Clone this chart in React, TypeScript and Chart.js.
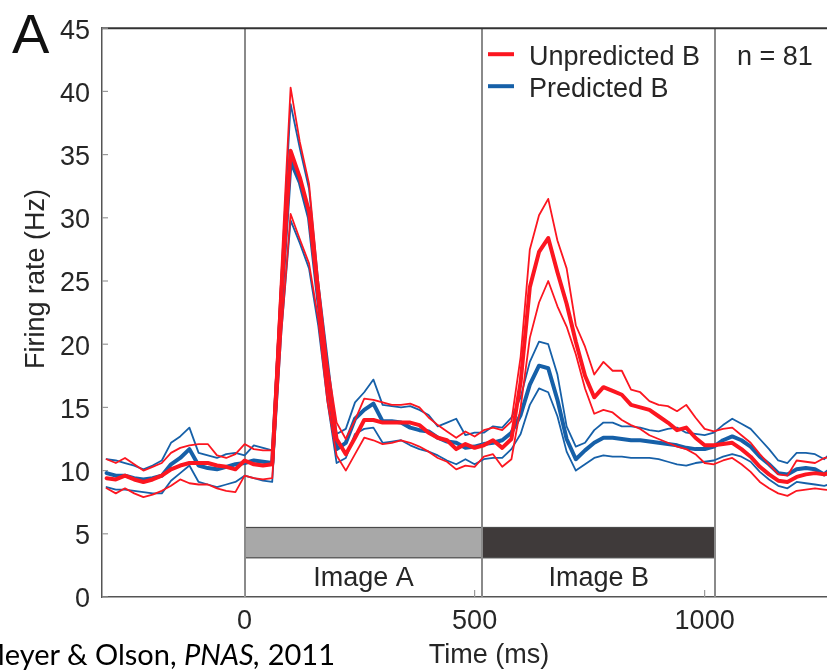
import React, { useEffect, useRef } from "react";
import { Chart, registerables } from "chart.js";

Chart.register(...registerables);

// ---- data ----
const timeMs = [
  -300, -280, -260, -240, -220, -200, -180, -160, -140, -120, -100, -80, -60, -40, -20,
  0, 20, 40, 60, 80, 100, 120, 140, 160, 180, 200, 220, 240, 260, 280, 300, 320, 340,
  360, 380, 400, 420, 440, 460, 480, 500, 520, 540, 560, 580, 600, 620, 640, 660, 680,
  700, 720, 740, 760, 780, 800, 820, 840, 860, 880, 900, 920, 940, 960, 980, 1000, 1020,
  1040, 1060, 1080, 1100, 1120, 1140, 1160, 1180, 1200, 1220, 1240, 1260, 1280,
];

const unpredictedMean = [
  9.4, 9.3, 9.6, 9.3, 9.1, 9.3, 9.6, 10.1, 10.4, 10.6, 10.6, 10.6, 10.4, 10.3, 10.1, 10.8, 10.5, 10.4, 10.5,
  24, 35.3, 33.2, 30.5, 24, 17, 12.5, 11.3, 12.6,
  14.0, 14.0, 13.8, 13.8, 13.8, 13.8, 13.6, 13.0, 12.6, 12.4, 11.7, 12.1, 11.8,
  12.0, 12.4, 11.8, 12.5, 17, 24.5, 27.3, 28.4, 25.7, 23.2, 20.2, 17.5, 15.8, 16.6, 16.3, 16.0, 15.2, 15.0, 14.8, 14.3, 13.8, 13.2, 13.4, 12.6, 12.0, 12.0,
  12.1, 12.2, 11.7, 11.1, 10.3, 9.7, 9.2, 9.1, 9.5, 9.7, 9.8, 9.7, 9.9,
];
const unpredictedUpper = [
  10.9, 10.6, 11.0, 10.5, 10.0, 10.3, 10.6, 11.4, 11.8, 12.0, 12.1, 12.1, 11.2, 11.0, 11.3, 12.1, 11.7, 11.6, 11.6,
  26, 40.3, 36.0, 32.7, 25, 18.5, 13.8, 12.5, 14.0,
  15.7, 15.6, 15.4, 15.2, 15.2, 15.3, 15.0, 14.2, 13.6, 13.1, 12.6, 13.1, 12.7,
  13.2, 13.4, 13.2, 13.9, 19, 27.5, 30.2, 31.5, 28.2, 26.0, 21.5, 19.8, 17.6, 18.6, 17.9, 17.9, 16.4, 16.2, 15.5, 15.2, 15.1, 14.7, 15.2, 14.2, 13.3, 13.1,
  13.3, 13.4, 12.8, 12.2, 11.3, 10.5, 9.7, 9.6, 10.8, 10.7, 10.6, 11.0, 11.1,
];
const unpredictedLower = [
  8.6, 8.2, 8.6, 8.2, 7.9, 8.1, 8.4, 8.8, 9.3, 9.0, 8.9, 8.9, 8.6, 8.4, 8.3, 9.6, 9.4, 9.3, 9.4,
  21, 30.3, 28.3, 26.4, 22, 15.5, 11.2, 10.0, 11.3,
  12.6, 12.4, 12.1, 12.2, 12.4, 12.2, 11.9, 11.5, 11.0, 10.7, 10.1, 10.4, 10.3,
  11.1, 11.3, 10.3, 10.9, 15, 20.5, 23.3, 25.0, 23.0, 21.4, 19.2, 16.5, 14.5, 14.8, 14.6, 14.0, 13.6, 13.3, 12.8, 12.5, 12.2, 11.9, 11.7, 11.3, 10.6, 10.5,
  10.8, 11.0, 10.5, 9.9, 9.1, 8.6, 8.2, 8.0, 8.4, 8.5, 8.6, 8.5, 8.4,
];
const predictedMean = [
  9.8, 9.6, 9.6, 9.4, 9.3, 9.4, 9.6, 10.5, 11.0, 11.7, 10.4, 10.2, 10.1, 10.3, 10.5, 10.6, 10.8, 10.7, 10.6,
  23.5, 34.5, 32.8, 30, 23.5, 17.3, 11.7, 12.2, 14.1,
  14.8, 15.3, 13.9, 13.9, 13.8, 13.4, 13.2, 13.1, 12.6, 12.3, 12.2, 11.8, 11.9,
  12.1, 12.2, 12.4, 13.0, 14.4, 16.8, 18.3, 18.1, 15.6, 12.5, 10.9, 11.6, 12.2, 12.6, 12.6, 12.5, 12.4, 12.4, 12.3, 12.2, 12.1, 12.0, 11.8, 11.7, 11.7, 11.9,
  12.4, 12.7, 12.4, 11.9, 11.1, 10.5, 9.8, 9.7, 10.1, 10.2, 10.1, 9.7, 10.3,
];
const predictedUpper = [
  10.9, 10.8, 10.6, 10.4, 10.1, 10.4, 10.8, 12.2, 12.7, 13.4, 11.4, 11.2, 11.0, 11.3, 11.4, 11.2, 12.0, 11.8, 11.6,
  25.5, 39.0, 35.5, 32.3, 25, 19, 12.9, 13.3, 15.4,
  16.2, 17.2, 15.2, 15.1, 15.0, 15.1, 14.8, 14.4, 13.5, 13.8, 14.1, 12.8, 13.0,
  13.0, 13.5, 13.4, 14.2, 15.8, 18.6, 20.2, 20.0, 17.6, 13.5, 11.9, 12.2, 13.2, 13.8, 13.8, 13.5, 13.5, 13.4, 13.2, 13.1, 13.3, 13.4, 13.0, 12.9, 12.8, 13.0,
  13.6, 14.1, 13.7, 13.3, 12.5, 11.7, 10.8, 10.6, 11.4, 11.4, 11.3, 10.9, 11.6,
];
const predictedLower = [
  8.7, 8.5, 8.5, 8.4, 8.3, 8.2, 8.2, 9.2, 9.8, 10.4, 9.1, 8.9, 8.7, 8.9, 9.1, 9.6, 9.4, 9.2, 9.1,
  21, 29.8, 28, 26, 21.5, 15.5, 10.6, 11.0, 12.9,
  13.3, 13.4, 12.2, 12.3, 12.4, 12.0, 11.7, 11.5, 11.2, 10.8, 10.5, 10.9, 10.5,
  10.9, 11.0, 11.0, 11.7, 12.9, 15.2, 16.5, 16.2, 14.3, 11.5, 10.0, 10.5, 11.0, 11.2, 11.1, 11.1, 11.0, 11.0, 11.0, 10.9, 10.7, 10.5, 10.4, 10.6, 10.7, 10.8,
  11.1, 11.3, 11.1, 10.7, 9.9, 9.3, 8.8, 8.6, 9.1, 9.0, 8.9, 8.8, 9.0,
];

const xTickValues = [0, 500, 1000];
const eventTimes = [0, 517, 1023];
const stimulusLabels = ["Image A", "Image B"];
const stimulusStarts = [0, 517];
const stimulusEnds = [517, 1023];
const stimulusRange = [3.1, 5.5];
const legendLabels = ["Unpredicted B", "Predicted B"];
const countLabel = "n = 81";

// ---- styles ----
const RED = "rgb(252, 22, 32)";
const BLUE = "rgb(22, 96, 168)";
const FONT = '"Liberation Sans", Arial, Helvetica, sans-serif';
const TEXT = "#262626";
const stimulusFills = ["#a8a8a8", "#3f3a3a"];

const toPoints = (vals: number[]) => timeMs.map((t, i) => ({ x: t, y: vals[i] }));

const overlayPlugin = {
  id: "overlay",
  beforeDatasetsDraw(chart: any) {
    const { ctx, chartArea, scales } = chart;
    const { left, right, top, bottom } = chartArea;
    const xs = scales.x;
    const ys = scales.y;
    ctx.save();
    // stimulus bars
    stimulusStarts.forEach((s: number, i: number) => {
      const x0 = xs.getPixelForValue(s);
      const x1 = xs.getPixelForValue(stimulusEnds[i]);
      const y0 = ys.getPixelForValue(stimulusRange[1]);
      const y1 = ys.getPixelForValue(stimulusRange[0]);
      ctx.fillStyle = stimulusFills[i];
      ctx.fillRect(x0, y0, x1 - x0, y1 - y0);
      ctx.strokeStyle = "#4a4a4a";
      ctx.lineWidth = 1.2;
      ctx.strokeRect(x0, y0, x1 - x0, y1 - y0);
      ctx.fillStyle = TEXT;
      ctx.font = `27px ${FONT}`;
      ctx.textAlign = "center";
      ctx.textBaseline = "alphabetic";
      ctx.fillText(stimulusLabels[i], (x0 + x1) / 2, bottom - 11);
    });
    // event lines
    ctx.strokeStyle = "#8a8a8a";
    ctx.lineWidth = 2;
    eventTimes.forEach((t: number) => {
      const px = Math.round(xs.getPixelForValue(t));
      ctx.beginPath();
      ctx.moveTo(px, top);
      ctx.lineTo(px, bottom);
      ctx.stroke();
    });
    // top border
    ctx.strokeStyle = "#333";
    ctx.lineWidth = 2;
    ctx.beginPath();
    ctx.moveTo(left, top);
    ctx.lineTo(right, top);
    ctx.stroke();
    // inward ticks
    ctx.strokeStyle = "#999";
    ctx.lineWidth = 1.2;
    ys.ticks.forEach((tk: any) => {
      const py = ys.getPixelForValue(tk.value);
      ctx.beginPath();
      ctx.moveTo(left, py);
      ctx.lineTo(left + 6, py);
      ctx.stroke();
    });
    xs.ticks.forEach((tk: any) => {
      const px = xs.getPixelForValue(tk.value);
      ctx.beginPath();
      ctx.moveTo(px, bottom);
      ctx.lineTo(px, bottom - 7);
      ctx.stroke();
    });
    ctx.restore();
  },
  afterDraw(chart: any) {
    const { ctx, chartArea } = chart;
    const { top, bottom } = chartArea;
    ctx.save();
    ctx.fillStyle = TEXT;
    ctx.font = `27px ${FONT}`;
    ctx.textBaseline = "alphabetic";
    ctx.textAlign = "left";
    // legend
    const colors = [RED, BLUE];
    legendLabels.forEach((lab: string, i: number) => {
      const cy = top + 26 + i * 32;
      ctx.strokeStyle = colors[i];
      ctx.lineWidth = 4;
      ctx.beginPath();
      ctx.moveTo(488, cy);
      ctx.lineTo(514, cy);
      ctx.stroke();
      ctx.fillText(lab, 529, cy + 11);
    });
    ctx.fillText(countLabel, 737, top + 37);
    // axis titles
    ctx.textAlign = "center";
    ctx.fillText("Time (ms)", 489, bottom + 66);
    ctx.save();
    ctx.translate(44, 279);
    ctx.rotate(-Math.PI / 2);
    ctx.fillText("Firing rate (Hz)", 0, 0);
    ctx.restore();
    ctx.restore();
  },
};

export default function App() {
  const canvasRef = useRef<HTMLCanvasElement | null>(null);

  useEffect(() => {
    if (!canvasRef.current) return;
    const thin = 1.8;
    const thick = 4;
    const chart = new Chart(canvasRef.current, {
      type: "line",
      data: {
        datasets: [
          { label: "Unpredicted B", data: toPoints(unpredictedMean), borderColor: RED, borderWidth: thick },
          { label: "Unpredicted B upper", data: toPoints(unpredictedUpper), borderColor: RED, borderWidth: thin },
          { label: "Unpredicted B lower", data: toPoints(unpredictedLower), borderColor: RED, borderWidth: thin },
          { label: "Predicted B", data: toPoints(predictedMean), borderColor: BLUE, borderWidth: thick },
          { label: "Predicted B upper", data: toPoints(predictedUpper), borderColor: BLUE, borderWidth: thin },
          { label: "Predicted B lower", data: toPoints(predictedLower), borderColor: BLUE, borderWidth: thin },
        ],
      },
      options: {
        responsive: false,
        animation: false,
        devicePixelRatio: 1,
        events: [],
        elements: {
          point: { radius: 0 },
          line: { tension: 0, borderJoinStyle: "round", borderCapStyle: "round", fill: false },
        },
        layout: { padding: { top: 19, right: 0, bottom: 0, left: 0 } },
        plugins: { legend: { display: false }, tooltip: { enabled: false } },
        scales: {
          x: {
            type: "linear",
            min: -310,
            max: 1266,
            grid: { display: false, drawTicks: false },
            border: { display: true, color: "#555", width: 1.5 },
            afterBuildTicks: (s: any) => {
              s.ticks = xTickValues.map((v) => ({ value: v }));
            },
            afterFit: (s: any) => {
              s.height = 73;
            },
            ticks: {
              font: { family: FONT, size: 27 },
              color: TEXT,
              padding: 8,
              maxRotation: 0,
              autoSkip: false,
              callback: (v: any) => String(v),
            },
          },
          y: {
            type: "linear",
            min: 0,
            max: 45,
            grid: { display: false, drawTicks: false },
            border: { display: true, color: "#555", width: 1.5 },
            afterFit: (s: any) => {
              s.width = 102;
            },
            ticks: {
              stepSize: 5,
              font: { family: FONT, size: 27 },
              color: TEXT,
              padding: 12,
              labelOffset: 3,
              callback: (v: any) => String(v),
            },
          },
        },
      } as any,
      plugins: [overlayPlugin],
    });
    return () => chart.destroy();
  }, []);

  return (
    <div style={{ position: "absolute", left: 0, top: 0, width: 827, height: 670, overflow: "hidden", background: "#fff" }}>
      <canvas ref={canvasRef} width={827} height={670} style={{ position: "absolute", left: 0, top: 0, width: 827, height: 670 }} />
      <div
        style={{
          position: "absolute",
          left: 12,
          top: 6,
          fontFamily: FONT,
          fontSize: 56,
          lineHeight: "56px",
          color: "#111",
        }}
      >
        A
      </div>
      <div
        style={{
          position: "absolute",
          right: 492,
          top: 639,
          fontFamily: "Lato, 'Open Sans', sans-serif",
          fontSize: 29,
          lineHeight: "29px",
          color: "#000",
          whiteSpace: "nowrap",
        }}
      >
        Meyer &amp; Olson, <i>PNAS,</i> 2011
      </div>
    </div>
  );
}
